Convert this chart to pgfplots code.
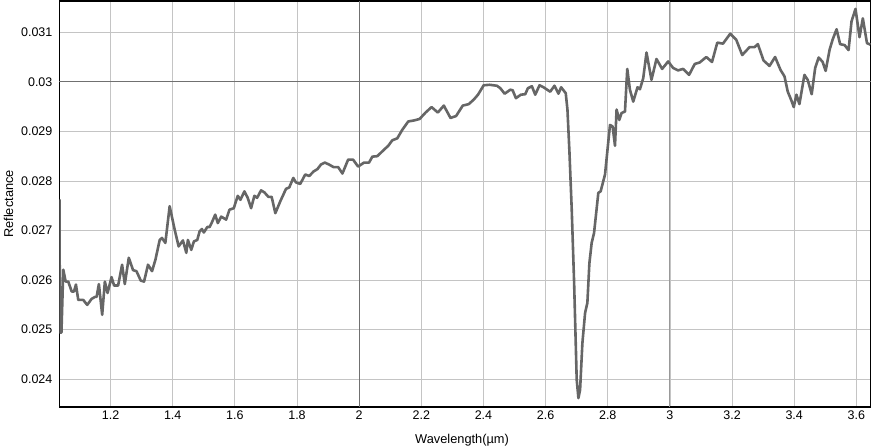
\documentclass[border=0pt]{standalone}
\usepackage{pgfplots}
\pgfplotsset{compat=1.18}
\usepackage{fontspec}
\setmainfont{Liberation Sans}
\definecolor{curve}{HTML}{666666}
\definecolor{gridc}{HTML}{C4C4C4}
\definecolor{gridd}{HTML}{707070}
\begin{document}
\begin{tikzpicture}
\useasboundingbox (-59.3bp,-41bp) rectangle (811.7bp,407bp);
\begin{axis}[
  scale only axis,
  width=811.5bp, height=406bp,
  at={(0,0)}, anchor=south west,
  xmin=1.0351, xmax=3.6465,
  ymin=0.02344, ymax=0.03163,
  xtick={1.2,1.4,1.6,1.8,2,2.2,2.4,2.6,2.8,3,3.2,3.4,3.6},
  ytick={0.024,0.025,0.026,0.027,0.028,0.029,0.03,0.031},
  scaled y ticks=false,
  scaled x ticks=false,
  /pgf/number format/assume math mode=true,
  yticklabel style={/pgf/number format/fixed,/pgf/number format/precision=3,font=\fontsize{12.5bp}{14bp}\selectfont,xshift=-3.4bp},
  xticklabel style={/pgf/number format/fixed,/pgf/number format/precision=1,font=\fontsize{12.5bp}{14bp}\selectfont,yshift=-0.5bp},
  major tick length=0pt,
  grid=major,
  major grid style={draw=gridc,line width=0.8bp},
  extra x ticks={2},
  extra x tick labels={},
  extra y ticks={0.03},
  extra y tick labels={},
  extra tick style={major grid style={draw=gridd,line width=0.9bp}},
  axis line style={black,line width=1.2bp},
  every axis x label/.style={at={([xshift=-3bp,yshift=-33bp]axis description cs:0.5,0)},anchor=center},
  every axis y label/.style={at={([xshift=-50.8bp]axis description cs:0,0.5)},anchor=center,rotate=90},
  xlabel={Wavelength(µm)},
  ylabel={Reflectance},
  label style={font=\fontsize{12.8bp}{15bp}\selectfont},
  axis on top=false,
]
\draw[draw=gray!80,line width=0.9bp] (axis cs:3,0.02344) -- (axis cs:3,0.03163);
\addplot[color=curve,line width=2.6bp,line join=round,no markers] coordinates {
(1.0356,0.02763) (1.0372,0.02494) (1.0420,0.02494) (1.0479,0.02621)
(1.0556,0.02597) (1.0640,0.02597) (1.0749,0.02577) (1.0823,0.02577)
(1.0887,0.02591) (1.0961,0.02560) (1.1121,0.02560) (1.1249,0.02550)
(1.1390,0.02562) (1.1496,0.02566) (1.1551,0.02566) (1.1625,0.02592)
(1.1731,0.02530) (1.1817,0.02597) (1.1904,0.02574) (1.2032,0.02606)
(1.2115,0.02589) (1.2244,0.02589) (1.2372,0.02631) (1.2459,0.02592)
(1.2587,0.02645) (1.2725,0.02620) (1.2834,0.02618) (1.2972,0.02599)
(1.3078,0.02597) (1.3206,0.02631) (1.3335,0.02618) (1.3444,0.02641)
(1.3582,0.02681) (1.3655,0.02685) (1.3764,0.02675) (1.3902,0.02749)
(1.4063,0.02702) (1.4191,0.02668) (1.4329,0.02680) (1.4438,0.02655)
(1.4489,0.02681) (1.4598,0.02661) (1.4682,0.02678) (1.4791,0.02681)
(1.4865,0.02698) (1.4939,0.02703) (1.5003,0.02696) (1.5112,0.02707)
(1.5186,0.02707) (1.5259,0.02716) (1.5368,0.02732) (1.5452,0.02715)
(1.5561,0.02728) (1.5721,0.02722) (1.5827,0.02742) (1.5965,0.02745)
(1.6094,0.02770) (1.6180,0.02762) (1.6308,0.02779) (1.6414,0.02766)
(1.6523,0.02745) (1.6629,0.02770) (1.6716,0.02766) (1.6844,0.02781)
(1.6950,0.02777) (1.7078,0.02768) (1.7184,0.02768) (1.7303,0.02735)
(1.7463,0.02759) (1.7646,0.02784) (1.7752,0.02787) (1.7880,0.02806)
(1.7967,0.02797) (1.8105,0.02794) (1.8265,0.02813) (1.8394,0.02810)
(1.8532,0.02819) (1.8660,0.02824) (1.8769,0.02833) (1.8897,0.02837)
(1.9035,0.02833) (1.9173,0.02828) (1.9324,0.02828) (1.9462,0.02815)
(1.9645,0.02843) (1.9805,0.02843) (1.9966,0.02829) (2.0158,0.02837)
(2.0318,0.02837) (2.0424,0.02849) (2.0585,0.02850) (2.0800,0.02863)
(2.0938,0.02871) (2.1066,0.02882) (2.1227,0.02886) (2.1387,0.02903)
(2.1580,0.02920) (2.1762,0.02922) (2.1945,0.02925) (2.2138,0.02938)
(2.2330,0.02949) (2.2532,0.02938) (2.2725,0.02952) (2.2940,0.02927)
(2.3120,0.02931) (2.3334,0.02952) (2.3527,0.02955) (2.3687,0.02964)
(2.3825,0.02974) (2.4008,0.02993) (2.4200,0.02994) (2.4435,0.02992)
(2.4544,0.02987) (2.4682,0.02976) (2.4865,0.02984) (2.4939,0.02983)
(2.5045,0.02967) (2.5205,0.02974) (2.5346,0.02975) (2.5429,0.02987)
(2.5558,0.02991) (2.5666,0.02974) (2.5805,0.02993) (2.5933,0.02989)
(2.6148,0.02980) (2.6285,0.02992) (2.6414,0.02976) (2.6500,0.02989)
(2.6648,0.02977) (2.6703,0.02944) (2.6767,0.02859) (2.6841,0.02742)
(2.6918,0.02594) (2.7001,0.02399) (2.7056,0.02362) (2.7110,0.02379)
(2.7184,0.02473) (2.7271,0.02534) (2.7344,0.02554) (2.7409,0.02634)
(2.7482,0.02675) (2.7559,0.02695) (2.7697,0.02776) (2.7771,0.02779)
(2.7912,0.02813) (2.8072,0.02913) (2.8156,0.02910) (2.8233,0.02871)
(2.8284,0.02944) (2.8371,0.02923) (2.8445,0.02937) (2.8554,0.02940)
(2.8628,0.03026) (2.8714,0.02984) (2.8820,0.02960) (2.8958,0.02989)
(2.9035,0.02985) (2.9141,0.03007) (2.9247,0.03059) (2.9407,0.03004)
(2.9568,0.03046) (2.9750,0.03026) (2.9943,0.03041) (3.0103,0.03028)
(3.0264,0.03023) (3.0424,0.03026) (3.0617,0.03014) (3.0800,0.03036)
(3.0960,0.03039) (3.1172,0.03050) (3.1355,0.03040) (3.1525,0.03079)
(3.1708,0.03077) (3.1942,0.03097) (3.2134,0.03085) (3.2327,0.03054)
(3.2564,0.03070) (3.2725,0.03070) (3.2830,0.03076) (3.3013,0.03043)
(3.3206,0.03032) (3.3385,0.03050) (3.3559,0.03024) (3.3687,0.03011)
(3.3793,0.02980) (3.3899,0.02964) (3.3985,0.02949) (3.4072,0.02974)
(3.4168,0.02955) (3.4329,0.03014) (3.4434,0.03004) (3.4563,0.02975)
(3.4675,0.03028) (3.4787,0.03049) (3.4916,0.03040) (3.5012,0.03022)
(3.5140,0.03065) (3.5236,0.03085) (3.5364,0.03106) (3.5477,0.03076)
(3.5621,0.03074) (3.5749,0.03064) (3.5845,0.03122) (3.5973,0.03147)
(3.6102,0.03090) (3.6208,0.03128) (3.6342,0.03078) (3.6450,0.03075)
};
\end{axis}
\end{tikzpicture}
\end{document}
